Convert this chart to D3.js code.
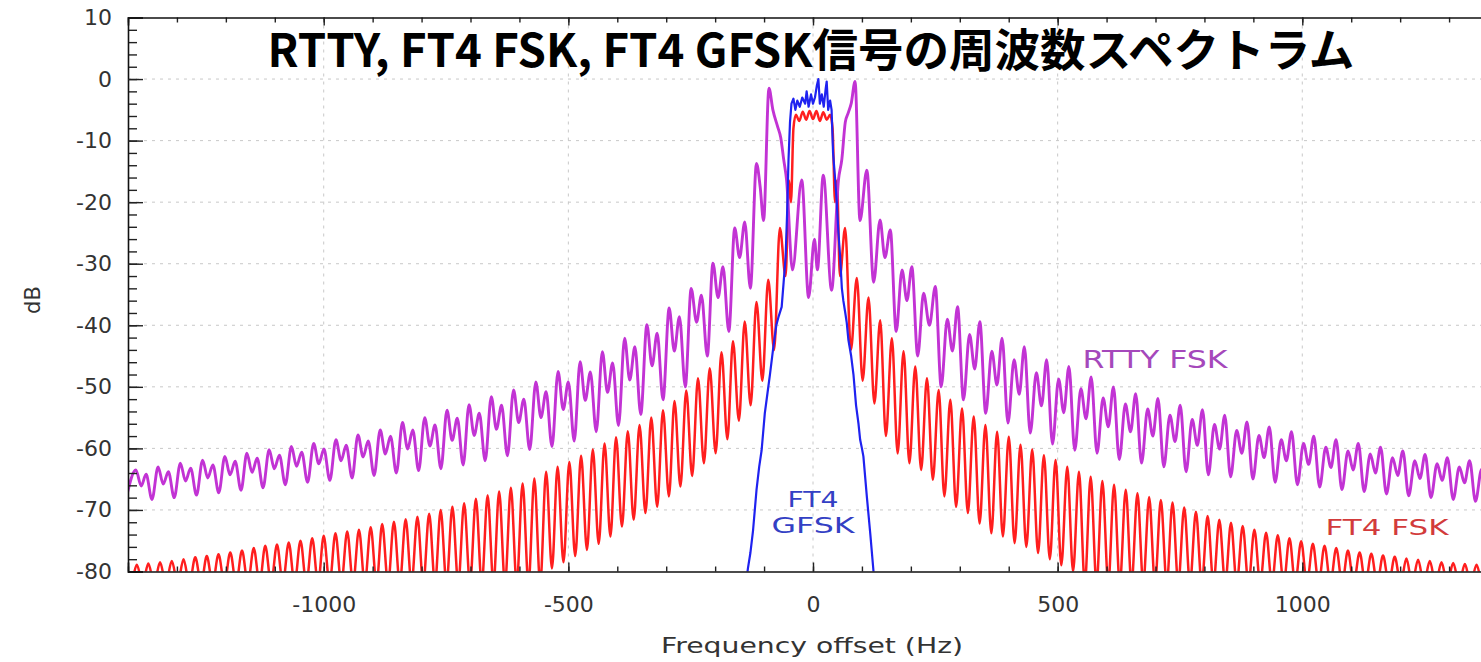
<!DOCTYPE html>
<html>
<head>
<meta charset="utf-8">
<title>RTTY, FT4 FSK, FT4 GFSK</title>
<script src="https://cdn.jsdelivr.net/npm/d3@7/dist/d3.min.js"></script>
<style>
  body{margin:0;background:#fff;}
  #theChart{width:1481px;height:662px;overflow:hidden;}
</style>
</head>
<body>
<div id="theChart"></div>
<script>
//values, [Hz, dB]
var xTicks = [-1000,-500,0,500,1000];
var yTicks = [10,0,-10,-20,-30,-40,-50,-60,-70,-80];
var seriesNames = ["RTTY FSK","FT4 FSK","FT4\nGFSK"];

var rttyFsk = [
  [-1402,-67.5],
  [-1384,-63.5],[-1373,-66.1],[-1363,-64.2],[-1351,-68.3],
  [-1338.5,-63.0],[-1328,-65.8],[-1317.5,-63.8],[-1305.5,-68.0],
  [-1293,-62.4],[-1282.5,-65.3],[-1272,-63.2],[-1260,-67.6],
  [-1247.5,-61.9],[-1237,-64.8],[-1226.5,-62.7],[-1214.5,-67.2],
  [-1202,-61.3],[-1191.5,-64.3],[-1181,-62.1],[-1169,-66.8],
  [-1157,-60.8],[-1146.5,-63.9],[-1136,-61.6],[-1124,-66.4],
  [-1111.5,-60.2],[-1101,-63.3],[-1090.5,-61.1],[-1078.5,-65.9],
  [-1066,-59.7],[-1055.5,-62.9],[-1045,-60.6],[-1033,-65.5],
  [-1020.5,-59.2],[-1010,-62.5],[-999.5,-60.1],[-987.5,-65.2],
  [-975,-58.6],[-964.5,-62.0],[-954,-59.5],[-942,-64.8],
  [-930,-57.8],[-919.5,-61.4],[-909,-58.8],[-897,-64.4],
  [-884.5,-57.0],[-874,-60.9],[-863.5,-58.0],[-851.5,-64.0],
  [-839,-55.8],[-828.5,-60.1],[-818,-57.0],[-806,-63.6],
  [-793.5,-55.0],[-783,-59.6],[-772.5,-56.2],[-760.5,-63.3],
  [-748,-53.8],[-737.5,-58.7],[-727,-55.1],[-715,-62.7],
  [-703,-52.9],[-692.5,-57.9],[-682,-54.3],[-670,-62.0],
  [-657.5,-51.6],[-647,-56.9],[-636.5,-53.0],[-624.5,-61.2],
  [-612,-50.5],[-601.5,-55.8],[-591,-52.0],[-579,-60.2],
  [-566.5,-49.2],[-556,-55.0],[-545.5,-50.8],[-533.5,-59.7],
  [-521,-47.5],[-510.5,-53.7],[-500,-49.2],[-488,-58.8],
  [-476,-45.9],[-465.5,-52.2],[-455,-47.6],[-443,-57.3],
  [-430.5,-44.3],[-420,-50.9],[-409.5,-46.1],[-397.5,-56.3],
  [-385,-42.1],[-374.5,-48.9],[-364,-43.5],[-352,-54.5],
  [-339.5,-39.9],[-329,-46.6],[-318.5,-41.3],[-306.5,-52.1],
  [-294,-37.2],[-283.5,-44.2],[-273,-38.6],[-261,-50.0],
  [-249,-34.0],[-238,-39.5],[-228,-35.1],[-216,-45.0],
  [-204.5,-29.9],[-194,-35.5],[-184,-30.5],[-172,-41.0],
  [-160,-24.2],[-150,-29.0],[-139.5,-23.2],[-128,-34.0],
  [-115.5,-13.7],[-108,-17.5],[-101,-23.0],
  [-90,-1.5],[-82,-5.0],[-72,-7.8],[-66,-9.5],[-60,-13.0],[-54,-16.4],[-42,-31.0],
  [-23,-16.4],[-9,-35.5],[3,-26.0],[9,-31.0],[21,-15.6],[38,-34.3],[52,-16.4],
  [59,-13.0],[66,-7.0],[72,-5.5],[78,-4.0],[86,-0.4],
  [96,-23.0],[110,-14.8],[124,-33.0],
  [137,-22.9],[147,-29.0],[158,-24.5],[170,-41.0],
  [182,-31.0],[192,-36.0],[202,-30.5],[214,-45.0],
  [226,-34.8],[238,-40.0],[250,-33.7],[262,-50.0],
  [274.5,-39.0],[285,-44.2],[295.5,-37.0],[307.5,-52.1],
  [320,-41.5],[330.5,-47.1],[341,-39.4],[353,-54.3],
  [365.5,-44.2],[376,-49.7],[386.5,-42.1],[398.5,-55.9],
  [411,-45.6],[421.5,-51.2],[432,-43.5],[444,-57.5],
  [456.5,-47.7],[467,-53.1],[477.5,-45.6],[489.5,-59.3],
  [502,-48.7],[512.5,-54.2],[523,-46.7],[535,-60.3],
  [547.5,-50.3],[558,-55.2],[568.5,-48.4],[580.5,-60.8],
  [593,-51.8],[603.5,-56.5],[614,-50.0],[626,-61.8],
  [638.5,-52.8],[649,-57.3],[659.5,-51.1],[671.5,-62.4],
  [684,-53.6],[694.5,-58.0],[705,-51.9],[717,-63.0],
  [729.5,-54.6],[740,-58.9],[750.5,-53.0],[762.5,-63.8],
  [775,-55.3],[785.5,-59.5],[796,-53.7],[808,-64.3],
  [820.5,-56.1],[831,-60.1],[841.5,-54.6],[853.5,-64.6],
  [866,-57.1],[876.5,-60.8],[887,-55.7],[899,-65.0],
  [911.5,-57.9],[922,-61.5],[932.5,-56.5],[944.5,-65.5],
  [957,-58.6],[967.5,-62.0],[978,-57.3],[990,-65.9],
  [1002.5,-59.2],[1013,-62.6],[1023.5,-58.0],[1035.5,-66.3],
  [1048,-59.8],[1058.5,-63.1],[1069,-58.6],[1081,-66.7],
  [1093.5,-60.4],[1104,-63.5],[1114.5,-59.2],[1126.5,-67.0],
  [1139,-60.9],[1149.5,-64.0],[1160,-59.8],[1172,-67.4],
  [1184.5,-61.5],[1195,-64.4],[1205.5,-60.4],[1217.5,-67.7],
  [1230,-62.0],[1240.5,-64.9],[1251,-61.0],[1263,-68.0],
  [1275.5,-62.5],[1286,-65.2],[1296.5,-61.5],[1308.5,-68.3],
  [1321,-63.0],[1331.5,-65.6],[1342,-62.0],[1354,-68.6],
  [1366.5,-63.4],[1377,-66.0],[1387.5,-62.5],[1399.5,-68.8],
  [1405,-66.5]
];

//FT4 FSK: sidelobe tops, the flat centre, and the nulls between lobes
var ft4FskPeaks = [
  [-1406,-79.0],[-1382,-78.9],[-1358.5,-78.7],[-1334.5,-78.5],[-1310.5,-78.3],[-1286.5,-78.0],
  [-1262.5,-77.7],[-1239,-77.5],[-1215,-77.2],[-1191,-76.9],[-1167,-76.6],[-1143,-76.2],
  [-1119.5,-75.8],[-1095.5,-75.6],[-1071.5,-75.3],[-1047.5,-75.0],[-1023.5,-74.6],[-1000,-74.2],
  [-976,-73.8],[-952,-73.5],[-928,-73.2],[-904,-72.8],[-880.5,-72.3],[-856.5,-71.9],
  [-832.5,-71.5],[-808.5,-71.1],[-784.5,-70.6],[-761,-70.0],[-737,-69.5],[-713,-68.9],
  [-689,-68.2],[-665,-67.6],[-641.5,-67.0],[-617.5,-66.4],[-593.5,-65.7],[-569.5,-64.9],
  [-545.5,-63.8],[-522,-63.0],[-498,-62.2],[-474,-61.2],[-450,-60.2],[-426,-59.2],
  [-402.5,-58.2],[-378.5,-57.2],[-354.5,-56.2],[-330.5,-55.0],[-306.5,-53.8],[-283,-52.3],
  [-259,-50.6],[-235,-48.6],[-211,-47.0],[-187,-44.4],[-163.5,-42.6],[-139.5,-39.4],
  [-115.5,-36.2],[-91.5,-32.6],[-67.7,-24.2],
  [65.6,-24.2],[89.5,-32.3],[113.4,-35.5],[137.3,-39.2],[161.2,-42.1],[185.1,-44.2],
  [209,-46.7],[232.9,-48.6],[256.8,-50.5],[280.7,-52.1],[304.6,-53.5],[328.5,-54.8],
  [352.4,-56.2],[376.3,-57.3],[400.2,-58.1],[424.1,-59.4],[448,-60.2],[471.9,-61.1],
  [495.8,-61.9],[519.7,-63.0],[543.6,-63.8],[567.5,-64.6],[591.4,-65.3],[615.3,-65.9],
  [639.2,-66.7],[663.1,-67.3],[687,-67.9],[710.9,-68.4],[734.8,-68.8],[758.7,-69.6],
  [782.6,-70.3],[806.5,-71.0],[830.4,-71.6],[854.3,-72.1],[878.2,-72.6],[902.1,-73.2],
  [926,-73.7],[949.9,-74.1],[973.8,-74.6],[997.7,-75.1],[1021.6,-75.5],[1045.5,-75.8],
  [1069.4,-76.2],[1093.3,-76.6],[1117.2,-76.9],[1141.1,-77.1],[1165,-77.4],[1188.9,-77.6],
  [1212.8,-77.9],[1236.7,-78.1],[1260.6,-78.3],[1284.5,-78.5],[1308.4,-78.6],[1332.3,-78.8],
  [1356.2,-78.9],[1380.1,-79.0],[1404,-79.1]
];
var ft4FskCentre = [
  [-56,-32],[-49,-16.5],[-45,-20],[-40,-8],[-35,-5.8],[-28,-6.8],[-21,-5.3],[-14,-6.6],
  [-7,-5.2],[0,-6.5],[7,-5.2],[14,-6.8],[21,-5.4],[28,-6.6],[35,-5.8],[40,-8],
  [45,-20],[49,-16.5],[55,-32]
];
var ft4FskNulls = [
  [-1394,-82],[-1370,-82],[-1346.5,-82],[-1322.5,-82],[-1298.5,-82],[-1274.5,-82],
  [-1250.5,-82],[-1227,-82],[-1203,-82],[-1179,-82],[-1155,-82],[-1131,-82],
  [-1107.5,-82],[-1083.5,-82],[-1059.5,-82],[-1035.5,-82],[-1011.5,-82],[-988,-82],
  [-964,-82],[-940,-82],[-916,-82],[-892,-82],[-868.5,-82],[-844.5,-82],
  [-820.5,-82],[-796.5,-82],[-772.5,-82],[-749,-82],[-725,-82],[-701,-82],
  [-677,-82],[-653,-82],[-629.5,-82],[-605.5,-82],[-581.5,-82],[-557.5,-82],
  [-533.5,-79.5],[-510,-78.5],[-486,-77.5],[-462,-76.5],[-438,-75.5],[-414,-74.3],
  [-390.5,-72.7],[-366.5,-71.6],[-342.5,-70.5],[-318.5,-69.5],[-294.5,-67.8],[-271,-66.2],
  [-247,-64.5],[-223,-62.4],[-199,-60.8],[-175,-58.5],[-151.5,-55.5],[-127.5,-53],
  [-103.5,-49],[-79.5,-44],
  [77.5,-44],[101.5,-49],[125.5,-52.7],[149,-58],[173,-60.8],[197,-62.4],
  [221,-63.5],[245,-65.1],[268.5,-67.8],[292.5,-69.5],[316.5,-70.5],[340.5,-72.2],
  [364.5,-73.8],[388,-74.3],[412,-75.4],[436,-76],[460,-77],[484,-78],
  [507.5,-79],[531.5,-80],[555.5,-82],[579.5,-82],[603.5,-82],[627,-82],
  [651,-82],[675,-82],[699,-82],[723,-82],[746.5,-82],[770.5,-82],
  [794.5,-82],[818.5,-82],[842.5,-82],[866,-82],[890,-82],[914,-82],
  [938,-82],[962,-82],[985.5,-82],[1009.5,-82],[1033.5,-82],[1057.5,-82],
  [1081.5,-82],[1105,-82],[1129,-82],[1153,-82],[1177,-82],[1201,-82],
  [1224.5,-82],[1248.5,-82],[1272.5,-82],[1296.5,-82],[1320.5,-82],[1344,-82],
  [1368,-82],[1392,-82]
];

var ft4Gfsk = [
  [-137,-82],[-133,-79.5],[-128,-77],[-122.5,-73.3],[-115.5,-66.8],[-110,-63],[-105,-60.3],
  [-98.5,-54.3],[-93,-51],[-88,-48],[-81,-43.5],[-75,-40],[-70,-38.5],[-64,-37],[-60,-33],
  [-56,-29],[-53,-22],[-50,-13],[-47,-7],[-44,-4],[-40,-3.2],[-36,-5],[-32,-3.5],[-27,-4.5],
  [-22,-3],[-16,-4],[-13,-2],[-9,-4.5],[-4,-2.5],[0,-4],[4,-3],[8,-1],[11,0],[14,-4],
  [18,-2.5],[22,-4.5],[26,-1.5],[28,-0.4],[31,-5],[35,-3.5],[38,-5],[41,-12],[45,-16],
  [48.6,-20],[52,-25],[55.4,-28.8],[59,-34],[62,-36],[66,-38],[69,-39.6],[72.4,-42.4],
  [78,-45],[82.7,-48],[88,-53],[93,-56],[96.4,-58.6],[100,-60],[103,-61.3],[110,-67.8],
  [117,-73.8],[123.7,-80],[126,-82]
];

var SpectrumChart = function(config){
  config = config || {};
  this.chartW = 1481;
  this.chartH = 662;
  this.plot = {left:128, right:1498, top:17.5, bottom:571.5};
  this.colors = ["#c233d4","#ff1e1e","#1f22f0"];
  this.labelColors = ["#a548bb","#d23b3b","#3340c4"];
  Object.assign(this, config);
  this.x = d3.scaleLinear().domain([-1400,1400]).range([this.plot.left, this.plot.right]);
  this.y = d3.scaleLinear().domain([-80,10]).range([this.plot.bottom, this.plot.top]);
};

SpectrumChart.prototype.draw = function(){
  var that = this;
  d3.select(that.parentEle).html("");
  this.svg = d3.select(that.parentEle)
    .append("svg")
    .attr("width", that.chartW)
    .attr("height", that.chartH)
    .style("font-family", "'DejaVu Sans', sans-serif");
  this.svg.append("defs").append("clipPath").attr("id", "plotClip")
    .append("rect")
    .attr("x", that.plot.left).attr("y", that.plot.top)
    .attr("width", that.plot.right - that.plot.left)
    .attr("height", that.plot.bottom - that.plot.top);
  this.drawGrid();
  this.drawLines();
  this.drawAxes();
  this.drawText();
};

SpectrumChart.prototype.drawGrid = function(){
  var that = this;
  var g = this.svg.append("g").attr("class", "grid")
    .attr("stroke", "#c8c8c8").attr("stroke-width", 1).attr("stroke-dasharray", "3,5");
  g.selectAll(".hgrid").data(yTicks.slice(1, -1)).enter()
    .append("line")
    .attr("x1", that.plot.left).attr("x2", that.plot.right)
    .attr("y1", function(d){ return that.y(d); })
    .attr("y2", function(d){ return that.y(d); });
  g.selectAll(".vgrid").data(xTicks).enter()
    .append("line")
    .attr("y1", that.plot.top).attr("y2", that.plot.bottom)
    .attr("x1", function(d){ return that.x(d); })
    .attr("x2", function(d){ return that.x(d); });
};

SpectrumChart.prototype.drawLines = function(){
  var that = this;
  var smooth = d3.line()
    .curve(d3.curveMonotoneX)
    .x(function(d){ return that.x(d[0]); })
    .y(function(d){ return that.y(d[1]); });
  var straight = d3.line()
    .x(function(d){ return that.x(d[0]); })
    .y(function(d){ return that.y(d[1]); });
  //FT4 FSK is stitched back together from its three pieces
  var fsk = ft4FskPeaks.concat(ft4FskCentre, ft4FskNulls)
    .sort(function(a, b){ return a[0] - b[0]; });
  var series = [
    {data: fsk, color: that.colors[1], w: 2.5, line: smooth},
    {data: rttyFsk, color: that.colors[0], w: 2.9, line: smooth},
    {data: ft4Gfsk, color: that.colors[2], w: 2.2, line: straight}
  ];
  var g = this.svg.append("g").attr("clip-path", "url(#plotClip)");
  g.selectAll("path").data(series).enter()
    .append("path")
    .attr("fill", "none")
    .attr("stroke", function(d){ return d.color; })
    .attr("stroke-width", function(d){ return d.w; })
    .attr("stroke-linejoin", "round")
    .attr("d", function(d){ return d.line(d.data); });
};

SpectrumChart.prototype.drawAxes = function(){
  var that = this;
  var fmt = function(d){ return String(d); };
  var yMinor = d3.range(-80, 10, 2);
  var xMinor = d3.range(-1400, 1401, 100);

  //minor ticks first, no labels
  this.svg.append("g").attr("transform", "translate(" + that.plot.left + ",0)")
    .call(d3.axisLeft(that.y).tickValues(yMinor).tickSize(-9).tickFormat(""))
    .call(function(g){ g.select(".domain").remove(); });
  this.svg.append("g").attr("transform", "translate(0," + that.plot.bottom + ")")
    .call(d3.axisBottom(that.x).tickValues(xMinor).tickSize(-5).tickFormat(""))
    .call(function(g){ g.select(".domain").remove(); });
  this.svg.append("g").attr("transform", "translate(0," + that.plot.top + ")")
    .call(d3.axisTop(that.x).tickValues(xMinor).tickSize(-5).tickFormat(""))
    .call(function(g){ g.select(".domain").remove(); });

  var left = this.svg.append("g").attr("transform", "translate(" + that.plot.left + ",0)")
    .call(d3.axisLeft(that.y).tickValues(yTicks).tickSize(-15).tickPadding(16).tickFormat(fmt));
  var bottom = this.svg.append("g").attr("transform", "translate(0," + that.plot.bottom + ")")
    .call(d3.axisBottom(that.x).tickValues(xTicks).tickSize(-9).tickPadding(25).tickFormat(fmt));
  this.svg.append("g").attr("transform", "translate(0," + that.plot.top + ")")
    .call(d3.axisTop(that.x).tickValues(xTicks).tickSize(-8).tickFormat(""));

  [left, bottom].forEach(function(ax){
    ax.selectAll("text").attr("fill", "#333").style("font-size", "22px")
      .style("font-family", "'DejaVu Sans', sans-serif");
  });
  this.svg.selectAll(".domain").attr("stroke", "#111").attr("stroke-width", 1.6);
  this.svg.selectAll(".tick line").attr("stroke", "#222").attr("stroke-width", 1.4);
};

SpectrumChart.prototype.drawText = function(){
  var that = this;
  var title = this.svg.append("text")
    .attr("x", 811).attr("y", 67)
    .attr("text-anchor", "middle")
    .style("font-family", "'Noto Sans CJK JP', sans-serif")
    .style("font-weight", 700)
    .style("font-size", "40px")
    .attr("fill", "#000")
    .text("RTTY, FT4 FSK, FT4 GFSK信号の周波数スペクトラム");
  //scale the title so it spans the same width as in the picture
  var tw = title.node().getComputedTextLength();
  title.style("font-size", (40 * 1087 / tw).toFixed(2) + "px");

  var labels = [
    {t: "Frequency offset (Hz)", x: 812, y: 653, size: 22, len: 302, fill: "#333"},
    {t: seriesNames[0], x: 1155, y: 368, size: 24, len: 145, fill: that.labelColors[0]},
    {t: seriesNames[1], x: 1387, y: 535, size: 21, len: 123, fill: that.labelColors[1]}
  ];
  seriesNames[2].split("\n").forEach(function(s, i){
    labels.push({t: s, x: 813, y: 507 + i * 26, size: 21, len: i ? 83 : 51, fill: that.labelColors[2]});
  });
  this.svg.selectAll(".lbl").data(labels).enter()
    .append("text")
    .attr("class", "lbl")
    .attr("x", function(d){ return d.x; })
    .attr("y", function(d){ return d.y; })
    .attr("text-anchor", "middle")
    .attr("textLength", function(d){ return d.len; })
    .attr("lengthAdjust", "spacingAndGlyphs")
    .style("font-size", function(d){ return d.size + "px"; })
    .attr("fill", function(d){ return d.fill; })
    .text(function(d){ return d.t; });

  this.svg.append("text")
    .attr("transform", "translate(40,300) rotate(-90)")
    .attr("text-anchor", "middle")
    .style("font-size", "21px")
    .attr("fill", "#333")
    .text("dB");
};

function createChart(){
  var chart = new SpectrumChart({
    parentEle: document.getElementById("theChart")
  });
  chart.draw();
}
createChart();
</script>
</body>
</html>
